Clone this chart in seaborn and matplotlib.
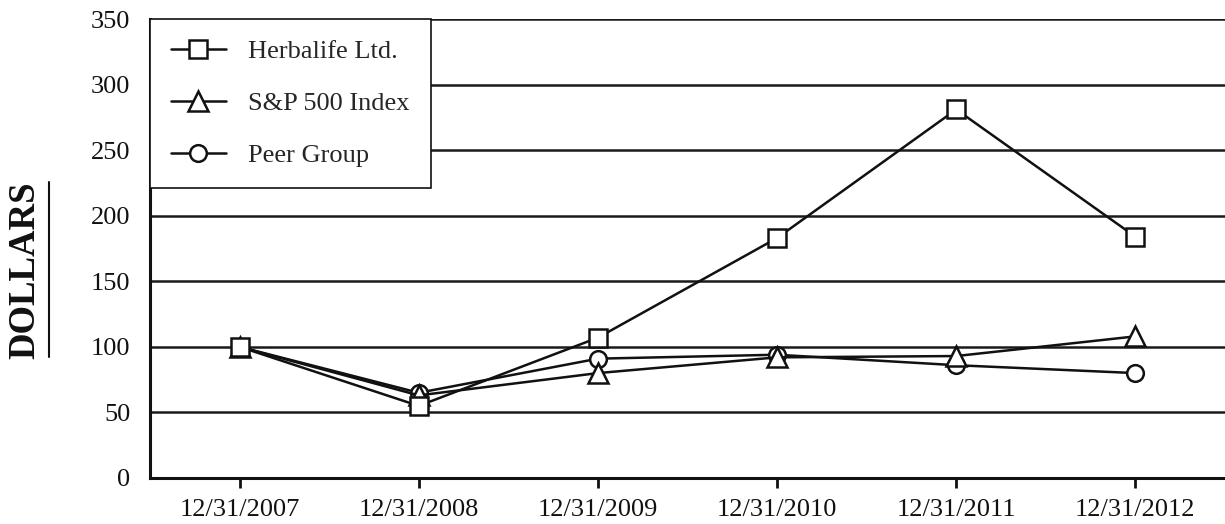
import pandas as pd
import seaborn as sns
import matplotlib.pyplot as plt
from matplotlib.lines import Line2D

dates = ["12/31/2007", "12/31/2008", "12/31/2009", "12/31/2010", "12/31/2011", "12/31/2012"]
herbalife = [100, 55, 107, 183, 281, 184]
sp500 = [100, 63, 80, 92, 93, 108]
peer = [100, 65, 91, 94, 86, 80]
y_ticks = [0, 50, 100, 150, 200, 250, 300, 350]

sns.set_theme(style="white")
plt.rcParams['font.family'] = ['Liberation Serif', 'DejaVu Serif']

fig = plt.figure(figsize=(12.25, 5.24), dpi=100)
ax = fig.add_axes([150 / 1225, 46 / 524, 1075 / 1225, 459 / 524])

# horizontal grid lines at every tick
for t in y_ticks[1:]:
    ax.axhline(t, color="#1a1a1a", lw=1.8, zorder=0)

style = dict(color="#111111", linewidth=1.8, markerfacecolor="white",
             markeredgecolor="#111111", markeredgewidth=1.8)

series = [("Peer Group", peer, "o", 12), ("S&P 500 Index", sp500, "^", 14),
          ("Herbalife Ltd.", herbalife, "s", 12.5)]
for name, vals, m, ms in series:
    sns.lineplot(x=dates, y=vals, marker=m, markersize=ms, label=name, ax=ax,
                 sort=False, **style)

ax.set_xlim(-0.5, 5.5)
ax.set_ylim(0, 350)
ax.set_yticks(y_ticks)
ax.set_xlabel("")
ax.set_ylabel("")

for s in ["top", "right"]:
    ax.spines[s].set_visible(False)
for s in ["left", "bottom"]:
    ax.spines[s].set_color("#111111")
    ax.spines[s].set_linewidth(2.2)

ax.tick_params(axis="y", left=False, labelsize=19, pad=8, colors="#111111")
ax.tick_params(axis="x", bottom=True, length=7, width=2, color="#111111",
               labelsize=19, pad=8, labelcolor="#111111")

handles, labels = ax.get_legend_handles_labels()
order = [2, 1, 0]
leg = ax.legend([handles[i] for i in order], [labels[i] for i in order],
                loc="upper left", bbox_to_anchor=(0, 1), fontsize=19,
                frameon=True, fancybox=False, edgecolor="#111111",
                handlelength=2.1, labelspacing=1.08, borderpad=0.78,
                handletextpad=0.85, borderaxespad=0)
leg.get_frame().set_linewidth(1.2)
leg.get_frame().set_alpha(1)

fig.text(25 / 1225, 1 - 270 / 524, "DOLLARS", rotation=90, ha="center", va="center",
         fontsize=26.5, fontweight="bold", color="#111111")
fig.add_artist(Line2D([49 / 1225, 49 / 1225], [1 - 357 / 524, 1 - 182 / 524],
                      color="#111111", lw=1.5))

plt.savefig("out.png", dpi=100)
plt.close()
